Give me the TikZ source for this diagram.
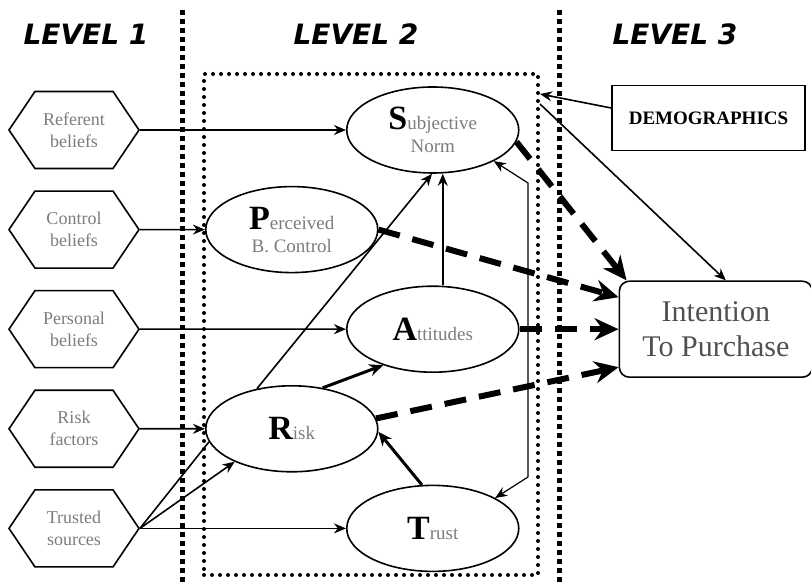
\documentclass[tikz,border=0pt]{standalone}
\usepackage{fontspec}
\setmainfont{Liberation Serif}
\newfontfamily\levelfont{DejaVu Sans}
\usepackage{tikz}
\usetikzlibrary{arrows.meta,positioning,shapes.geometric,shapes.symbols}

\definecolor{txtgray}{HTML}{7C7C7C}
\definecolor{intgray}{HTML}{505050}

\newcommand{\capletter}[1]{{\fontsize{17}{17}\selectfont\bfseries #1}}
\newcommand{\smalltail}[1]{{\color{txtgray}#1}}

\begin{document}
\begin{tikzpicture}[
  x=0.5pt, y=-0.5pt,
  node distance=10.5pt,
  hexa/.style={draw, signal, signal to=east and west, signal pointer angle=112,
    minimum width=65pt, minimum height=38.5pt, inner sep=0pt, line width=0.8pt,
    align=center, text=txtgray, font=\fontsize{9}{11}\selectfont},
  ell/.style={draw, ellipse, minimum width=86pt, minimum height=43pt,
    inner sep=0pt, line width=0.8pt, align=center,
    font=\fontsize{9.5}{11.5}\selectfont},
  demobox/.style={draw, minimum width=96.5pt, minimum height=32.5pt,
    line width=0.8pt, font=\fontsize{9.5}{11}\selectfont\bfseries},
  intbox/.style={draw, rounded corners=5pt, minimum width=96.5pt,
    minimum height=48pt, line width=0.8pt, align=center, text=intgray,
    font=\fontsize{15}{17.5}\selectfont},
  lvl/.style={font=\levelfont\fontsize{14}{14}\selectfont\bfseries\itshape},
  arr/.style={-{Stealth[length=6pt,width=5pt]}, line width=0.8pt},
  fatarr/.style={-{Stealth[length=7pt,width=6pt]}, line width=1.5pt},
  dasharr/.style={-{Stealth[length=12pt,width=11pt,inset=4pt]},
    line width=3pt, dash pattern=on 11pt off 6.5pt},
  sqdots/.style={line width=2.5pt, dash pattern=on 2.5pt off 2pt},
  rnddots/.style={line width=2pt, line cap=round, dash pattern=on 0pt off 4pt}
]
  \useasboundingbox (0,0) rectangle (811,582);

  % level headings and separators
  \node[lvl] (lv1) at (86,34) {LEVEL 1};
  \node[lvl] (lv2) at (356,34) {LEVEL 2};
  \node[lvl] (lv3) at (675,34) {LEVEL 3};
  \draw[sqdots] (182,10) -- (182,582);
  \draw[sqdots] (559,10) -- (559,582);
  \node[draw, rnddots, minimum width=167pt, minimum height=250.5pt,
    inner sep=0pt] (lvtwo) at (371,324.5) {};

  % level 1: beliefs
  \node[hexa] (ref) at (74,130) {Referent\\beliefs};
  \node[hexa, below=of ref] (ctrl) {Control\\beliefs};
  \node[hexa, below=of ctrl] (pers) {Personal\\beliefs};
  \node[hexa, below=of pers] (riskf) {Risk\\factors};
  \node[hexa, below=of riskf] (trusted) {Trusted\\sources};

  % level 2: constructs
  \node[ell, right=103pt of ref] (sn) {\capletter{S}\smalltail{ubjective}\\\smalltail{Norm}};
  \node[ell, right=32.5pt of ctrl] (pbc) {\capletter{P}\smalltail{erceived}\\\smalltail{B. Control}};
  \node[ell, right=103pt of pers] (att) {\capletter{A}\smalltail{ttitudes}};
  \node[ell, right=32.5pt of riskf] (rsk) {\capletter{R}\smalltail{isk}};
  \node[ell, right=103pt of trusted] (tr) {\capletter{T}\smalltail{rust}};

  % level 3
  \node[demobox] (demo) at (708.5,118) {DEMOGRAPHICS};
  \node[intbox, right=49.5pt of att] (int) {Intention\\To Purchase};

  \coordinate (c1) at (528,183);
  \coordinate (c2) at (528,477);

  \draw[arr] (ref) -- (sn);
  \draw[arr] (ctrl) -- (pbc);
  \draw[arr] (pers) -- (att);
  \draw[arr] (riskf) -- (rsk);
  \draw[arr] (trusted.east) -- (tr);
  \draw[line width=0.8pt] (trusted.east) -- (rsk.189);
  \draw[arr] (trusted.east) -- (rsk.210);
  \draw[arr] (rsk.131) -- (sn.269);
  \draw[arr] ([xshift=5pt]att.north) -- ([xshift=5pt]sn.south);
  \draw[fatarr] (rsk.53) -- (att.216);
  \draw[fatarr] (tr.104) -- (rsk.-2);
  \draw[{Stealth[length=6pt,width=5pt]}-{Stealth[length=6pt,width=5pt]}, line width=0.6pt]
    (sn.-27) -- (c1) -- (c2) -- (tr.26);

  \draw[dasharr] (sn.-8) -- ([xshift=4pt]int.north west);
  \draw[dasharr] (pbc.east) -- ([yshift=16pt]int.west);
  \draw[dasharr] (att.east) -- (att.east -| int.west);
  \draw[dasharr] (rsk.7) -- ([yshift=-19pt]int.west);

  \draw[arr] ([yshift=5pt]demo.west) -- ([yshift=-11pt]lvtwo.north east);
  \draw[arr] ([yshift=-16pt]lvtwo.north east) -- ([xshift=5pt]int.north);
\end{tikzpicture}
\end{document}
